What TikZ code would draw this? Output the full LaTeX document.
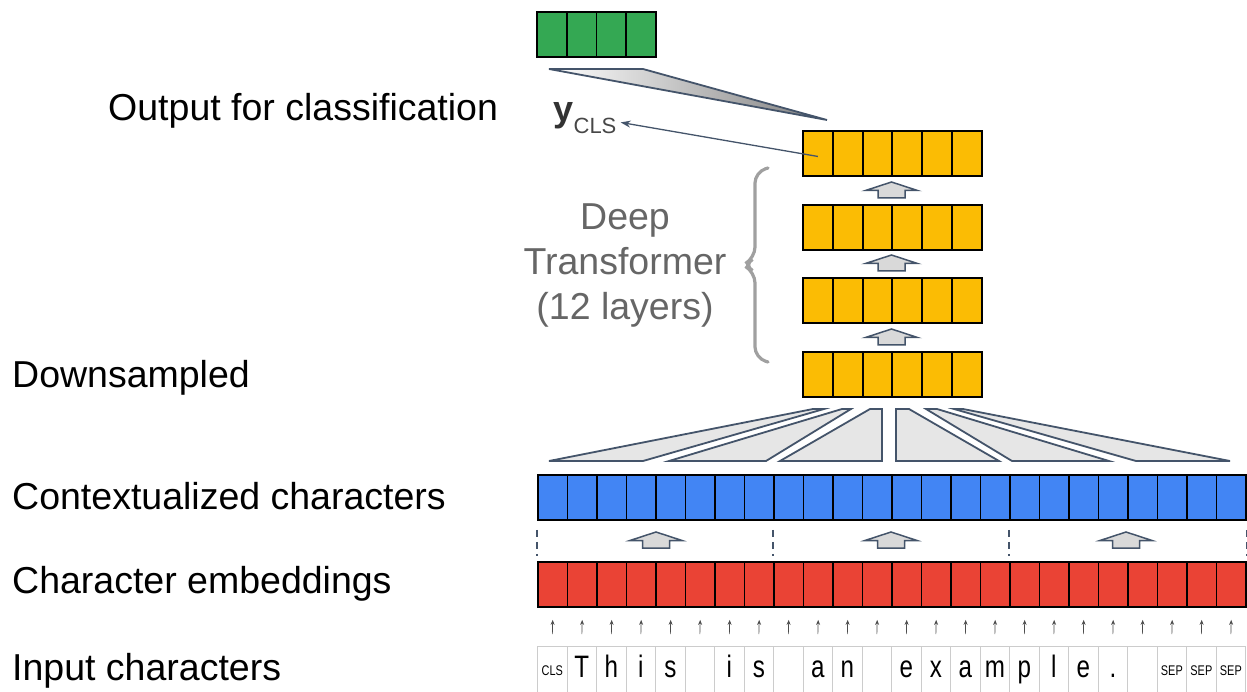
\documentclass[tikz,border=0pt]{standalone}
\usepackage{fontspec}
\setmainfont{Liberation Sans}
\newfontfamily\narrowfont[FakeStretch=0.78]{Liberation Sans}
\usetikzlibrary{arrows.meta}
\definecolor{ggreen}{HTML}{34A853}
\definecolor{gyellow}{HTML}{FBBC04}
\definecolor{gblue}{HTML}{4285F4}
\definecolor{gred}{HTML}{EA4335}
\definecolor{slate}{HTML}{44546A}
\definecolor{lightfill}{HTML}{E6E6E6}
\definecolor{arrowfill}{HTML}{D9D9D9}
\definecolor{bracegray}{HTML}{A0A0A0}
\definecolor{textgray}{HTML}{666666}
\definecolor{inborder}{HTML}{CCCCCC}
\begin{document}
\begin{tikzpicture}[x=1pt,y=-1pt,
  cell/.style={draw=black, line width=1.9pt, minimum height=45pt, inner sep=0pt, anchor=north west},
  incell/.style={draw=inborder, line width=1.2pt, minimum width=29.5pt, minimum height=46pt, inner sep=0pt, anchor=north west},
  label/.style={anchor=base west, inner sep=0pt, font=\fontsize{37.5}{40}\selectfont},
  chartext/.style={anchor=base, inner sep=0pt, font=\narrowfont\fontsize{31}{33}\selectfont},
  tinytext/.style={anchor=base, inner sep=0pt, font=\narrowfont\fontsize{14}{15}\selectfont},
  funnel/.style={draw=slate, line width=1.8pt, fill=lightfill, line join=miter},
  blockarrow/.style={draw=slate, line width=1.5pt, fill=arrowfill},
  thinarrow/.style={draw=black!70, line width=0.7pt, -{Stealth[length=5pt,width=4pt]}},
  dashsep/.style={draw=slate, line width=1.5pt, dash pattern=on 7pt off 5pt},
  blockup/.pic={\path[blockarrow] (0,0) -- (26,8.5) -- (13.5,8.5) -- (13.5,16) -- (-13.5,16) -- (-13.5,8.5) -- (-26,8.5) -- cycle;}
]
\useasboundingbox (0,0) rectangle (1247,692);

% left labels
\node[label] (lout) at (108,121) {Output for classification};
\node[label] (ldown) at (12,388) {Downsampled};
\node[label] (lctx) at (12,509) {Contextualized characters};
\node[label] (lemb) at (12,593) {Character embeddings};
\node[label] (linp) at (12,680) {Input characters};

% green output
\foreach \i in {0,...,3}
  \node[cell, fill=ggreen, minimum width=29.75pt] (g\i) at ({536+29.75*\i},11) {};

% funnel from CLS to output
\path[draw=slate, line width=1.8pt, left color=white, right color=black!50, line join=miter]
  (549,69) -- (643,69) -- (827,120) -- cycle;

% y_CLS
\node[anchor=base west, inner sep=0pt, text=black!80, font=\fontsize{36}{36}\selectfont\bfseries] (ybold) at (553,122) {y};
\node[anchor=base west, inner sep=0pt, text=black!72, font=\fontsize{22}{22}\selectfont] (ycls) at (ybold.base east) [yshift=-12pt] {CLS};

% yellow layers
\foreach \l/\t in {1/130,2/204,3/277,4/351}
  \foreach \i in {0,...,5}
    \node[cell, fill=gyellow, minimum width=29.8pt] (y\l c\i) at ({802+29.8*\i},\t) {};

\coordinate (clstip) at ([xshift=4pt,yshift=4pt]ycls.east);
\draw[draw=slate, line width=1.3pt, -{Stealth[length=10pt,width=7pt]}] ([yshift=-3pt]y1c0.center) -- (clstip);

% block arrows between yellow layers
\pic at (891.5,182) {blockup};
\pic at (891.5,255) {blockup};
\pic at (891.5,329) {blockup};

% brace
\draw[bracegray, line width=3.2pt, line cap=round, rounded corners=11pt]
  (768,168) -- (755,172) -- (755,258) -- (743,265) -- (755,272) -- (755,358) -- (768,362);

\node[align=center, inner sep=0pt, text=textgray, font=\fontsize{37.5}{45}\selectfont] (deep) at (625,265) {Deep\\Transformer\\(12 layers)};

% downsampling funnels
\path[funnel] (549,461) -- (643,461) -- (824,409) -- (813,409) -- cycle;
\path[funnel] (669,461) -- (766,461) -- (851,409) -- (842,409) -- cycle;
\path[funnel] (780,461) -- (882,461) -- (882,409) -- (870,409) -- cycle;
\path[funnel] (896,461) -- (999,461) -- (909,409) -- (896,409) -- cycle;
\path[funnel] (1012,461) -- (1109,461) -- (937,409) -- (926,409) -- cycle;
\path[funnel] (1136,461) -- (1230,461) -- (963,409) -- (954,409) -- cycle;

% blue and red rows, input cells
\foreach \i in {0,...,23} {
  \node[cell, fill=gblue, minimum width=29.5pt] (b\i) at ({537+29.5*\i},474) {};
  \node[cell, fill=gred, minimum width=29.5pt] (r\i) at ({537+29.5*\i},561) {};
  \node[incell] (c\i) at ({537+29.5*\i},646) {};
  \draw[thinarrow] ([yshift=12pt]c\i.north) -- ([yshift=-12pt]r\i.south);
}

% dashed separators
\foreach \i in {0,8,16}
  \draw[dashsep] ([yshift=-9pt]b\i.south west) -- ([yshift=5pt]r\i.north west);
\draw[dashsep] ([yshift=-9pt]b23.south east) -- ([yshift=5pt]r23.north east);

% block arrows between red and blue
\pic at (656,532) {blockup};
\pic at (891,532) {blockup};
\pic at (1126,532) {blockup};

% input characters
\node[tinytext] (t0) at ([yshift=-29pt]c0.north) {CLS};
\foreach \i/\ch in {1/T,2/h,3/i,4/s,6/i,7/s,9/a,10/n,12/e,13/x,14/a,15/m,16/p,17/l,18/e,19/.}
  \node[chartext] (t\i) at ([yshift=-31pt]c\i.north) {\ch};
\foreach \i in {21,22,23}
  \node[tinytext] (t\i) at ([yshift=-29pt]c\i.north) {SEP};
\end{tikzpicture}
\end{document}
